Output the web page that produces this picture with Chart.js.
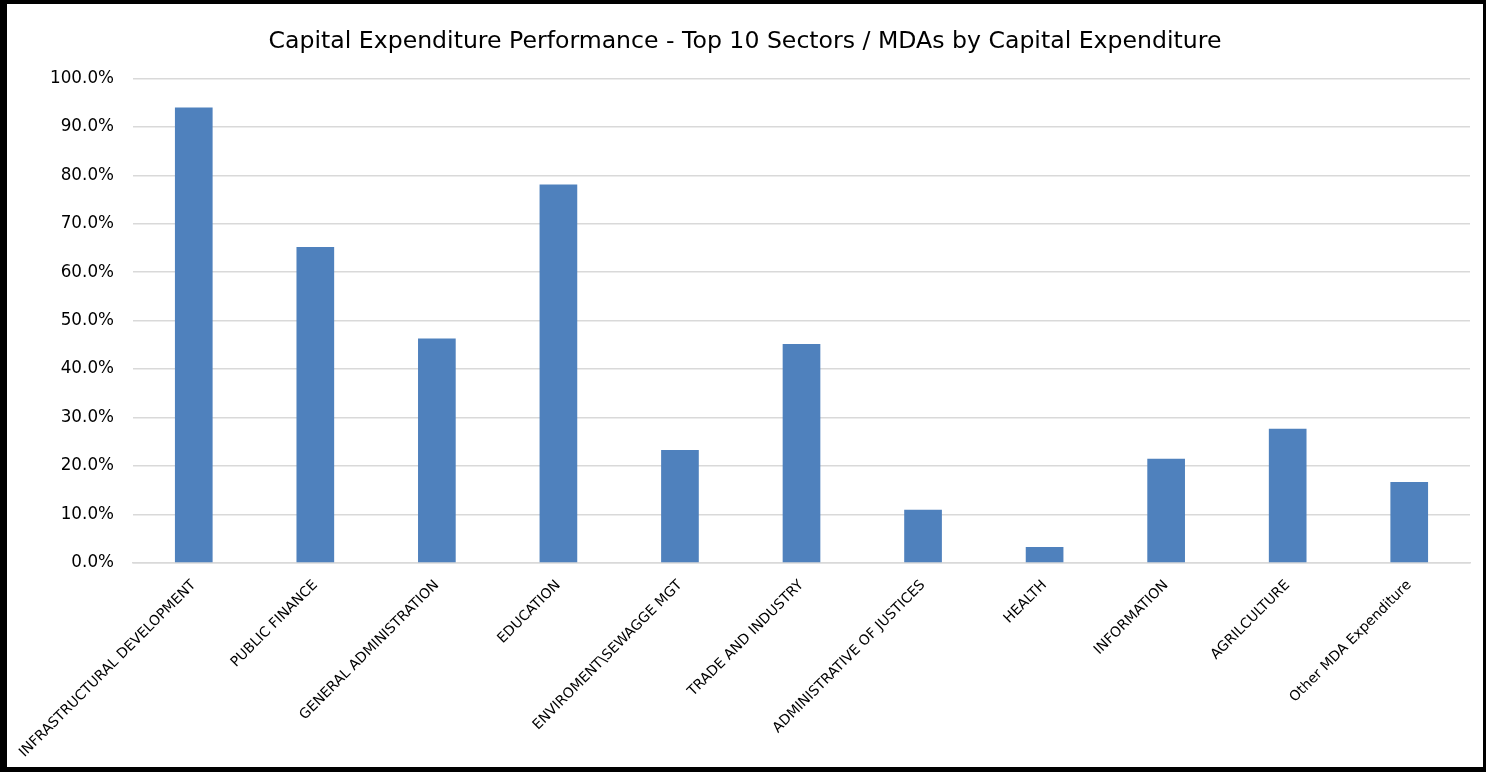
<!DOCTYPE html>
<html>
<head>
<meta charset="utf-8">
<script src="https://cdn.jsdelivr.net/npm/chart.js@4/dist/chart.umd.min.js"></script>
<style>
  html, body { margin: 0; padding: 0; background: #fff; }
  #frame {
    width: 1476px; height: 763px;
    border-left: 7px solid #000; border-top: 4px solid #000;
    border-right: 3px solid #000; border-bottom: 5px solid #000;
    background: #fff;
  }
  canvas { display: block; }
</style>
</head>
<body>
<div id="frame"><canvas id="capex" width="1476" height="763"></canvas></div>
<script>
var sectors = [
  "INFRASTRUCTURAL DEVELOPMENT", "PUBLIC FINANCE", "GENERAL ADMINISTRATION",
  "EDUCATION", "ENVIROMENT\\SEWAGGE MGT", "TRADE AND INDUSTRY",
  "ADMINISTRATIVE OF JUSTICES", "HEALTH", "INFORMATION", "AGRILCULTURE",
  "Other MDA Expenditure"
];
var performance = [94.0, 65.2, 46.3, 78.1, 23.3, 45.2, 11.0, 3.3, 21.5, 27.7, 16.7];
var yTicks = [0, 10, 20, 30, 40, 50, 60, 70, 80, 90, 100];

Chart.defaults.font.family = "'DejaVu Sans', Verdana, sans-serif";
Chart.defaults.color = "#000";

var ctx = document.getElementById('capex').getContext('2d');
new Chart(ctx, {
  type: 'bar',
  data: {
    labels: sectors,
    datasets: [{
      data: performance,
      backgroundColor: "#4f81bd",
      borderWidth: 0,
      barPercentage: 0.31,
      categoryPercentage: 1.0
    }]
  },
  options: {
    responsive: false,
    animation: false,
    // equal side padding keeps the title centred on the frame
    layout: { padding: { left: 13, right: 13, top: 0, bottom: 0 } },
    plugins: {
      legend: { display: false },
      tooltip: { enabled: false },
      title: {
        display: true,
        text: "Capital Expenditure Performance - Top 10 Sectors / MDAs by Capital Expenditure",
        font: { size: 23.6, weight: 'normal' },
        color: "#000",
        padding: { top: 24, bottom: 22 }
      }
    },
    scales: {
      x: {
        grid: { display: false },
        border: { color: "#d9d9d9", width: 1.5 },
        ticks: {
          autoSkip: false,
          maxRotation: 45,
          minRotation: 45,
          font: { size: 14 },
          padding: 6
        },
        afterFit: function (scale) { scale.height = 204; }
      },
      y: {
        min: 0,
        max: 100,
        afterBuildTicks: function (scale) {
          scale.ticks = yTicks.map(function (v) { return { value: v }; });
        },
        grid: { color: "#d9d9d9", lineWidth: 1.5, drawTicks: false },
        border: { display: false },
        ticks: {
          font: { size: 16.8 },
          padding: 19,
          callback: function (v) { return v.toFixed(1) + '%'; }
        },
        afterFit: function (scale) { scale.width = 113; }
      }
    }
  }
});
</script>
</body>
</html>
